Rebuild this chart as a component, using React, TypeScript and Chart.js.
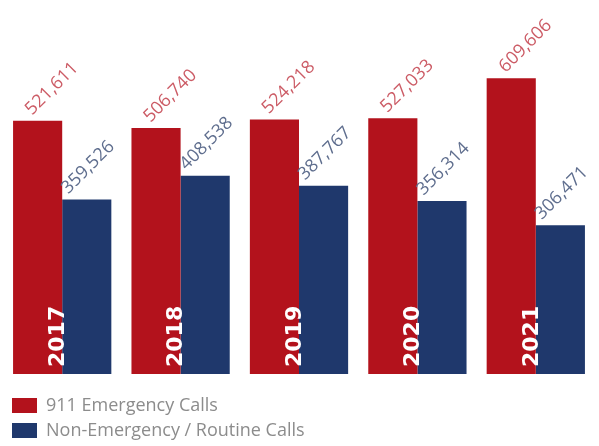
import React, { useEffect, useRef } from "react";
import { Chart, registerables } from "chart.js";

Chart.register(...registerables);

const years = ["2017", "2018", "2019", "2020", "2021"];
const emergencyCalls = [521611, 506740, 524218, 527033, 609606];
const routineCalls = [359526, 408538, 387767, 356314, 306471];
const seriesNames = ["911 Emergency Calls", "Non-Emergency / Routine Calls"];

const RED = "#b3121c";
const BLUE = "#1f386c";
const RED_TEXT = "#cc5c66";
const BLUE_TEXT = "#5f6e8e";

const fmt = (v: number) => v.toLocaleString("en-US");

const overlayPlugin = {
  id: "overlay",
  afterDatasetsDraw(chart: any) {
    const ctx = chart.ctx;
    ctx.save();
    // value labels
    chart.data.datasets.forEach((ds: any, di: number) => {
      const meta = chart.getDatasetMeta(di);
      meta.data.forEach((bar: any, i: number) => {
        const left = bar.x - bar.width / 2;
        const dx = di === 0 ? 19 : 6;
        const dy = di === 0 ? 5 : 5;
        ctx.save();
        ctx.translate(left + dx, bar.y - dy);
        ctx.rotate(-Math.PI / 4);
        ctx.font = "18px 'Open Sans', sans-serif";
        ctx.fillStyle = di === 0 ? RED_TEXT : BLUE_TEXT;
        ctx.textAlign = "left";
        ctx.textBaseline = "alphabetic";
        ctx.fillText(fmt(ds.data[i]), 0, 0);
        ctx.restore();
      });
    });
    // year labels inside bars
    const xScale = chart.scales.x;
    const bottom = chart.chartArea.bottom;
    chart.data.labels.forEach((lab: string, i: number) => {
      const cx = xScale.getPixelForValue(i);
      ctx.save();
      ctx.translate(cx - 4, bottom - 7);
      ctx.rotate(-Math.PI / 2);
      ctx.font = "bold 22px 'DejaVu Sans', sans-serif";
      ctx.fillStyle = "#ffffff";
      ctx.textAlign = "left";
      ctx.textBaseline = "middle";
      ctx.fillText(lab, 0, 0);
      ctx.restore();
    });
    // legend
    const colors = [RED, BLUE];
    seriesNames.forEach((name, i) => {
      const y = 398 + i * 25;
      ctx.fillStyle = colors[i];
      ctx.fillRect(12, y, 25, 15);
      ctx.font = "18px 'Open Sans', sans-serif";
      ctx.fillStyle = "#8c8c8c";
      ctx.textAlign = "left";
      ctx.textBaseline = "middle";
      ctx.fillText(name, 46, y + 8);
    });
    ctx.restore();
  },
};

export default function App() {
  const ref = useRef<HTMLCanvasElement | null>(null);
  useEffect(() => {
    if (!ref.current) return;
    const chart = new Chart(ref.current, {
      type: "bar",
      data: {
        labels: years,
        datasets: [
          {
            label: seriesNames[0],
            data: emergencyCalls,
            backgroundColor: RED,
            categoryPercentage: 0.83,
            barPercentage: 1.0,
          },
          {
            label: seriesNames[1],
            data: routineCalls,
            backgroundColor: BLUE,
            categoryPercentage: 0.83,
            barPercentage: 1.0,
          },
        ],
      },
      options: {
        animation: false,
        responsive: false,
        maintainAspectRatio: false,
        layout: { padding: { left: 3, right: 4, top: 10, bottom: 72 } },
        plugins: {
          legend: { display: false },
          tooltip: { enabled: false },
        },
        scales: {
          x: { display: false },
          y: { display: false, min: 0, max: 750000 },
        },
      },
      plugins: [overlayPlugin],
    });
    return () => chart.destroy();
  }, []);
  return (
    <div style={{ position: "absolute", left: 0, top: 0, width: 599, height: 446, background: "#fff" }}>
      <canvas ref={ref} width={599} height={446} style={{ width: 599, height: 446 }} />
    </div>
  );
}
